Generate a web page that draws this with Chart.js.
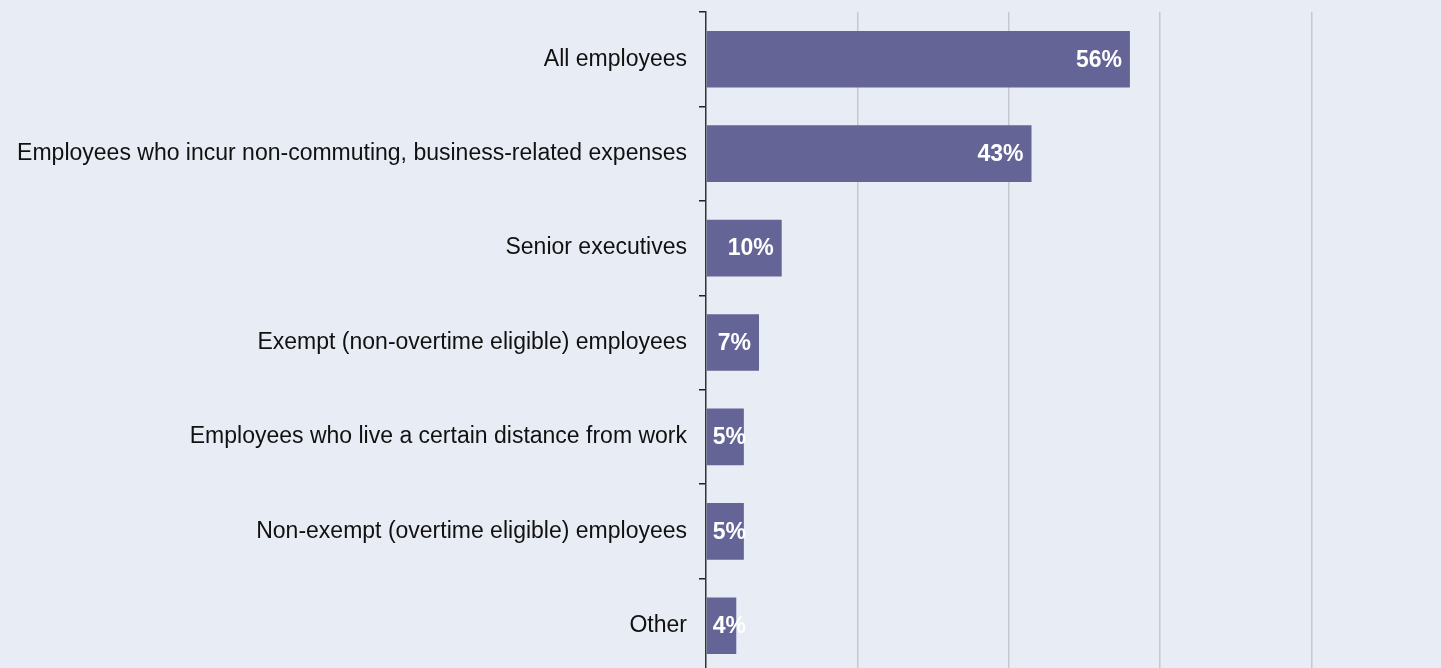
<!DOCTYPE html>
<html>

<head>
    <meta charset="UTF-8">
    <title>Employee Groups</title>
    <style>
        html,
        body {
            margin: 0;
            padding: 0;
            overflow: hidden;
            background: #e8ecf4;
        }

        #chartBox {
            width: 1441px;
            height: 668px;
            overflow: hidden;
        }
    </style>
</head>

<body>
    <div id="chartBox">
        <canvas id="groupChart" width="1464" height="674"></canvas>
    </div>
    <script src="https://cdn.jsdelivr.net/npm/chart.js"></script>

    <script>
        const categories = [
            "All employees",
            "Employees who incur non-commuting, business-related expenses",
            "Senior executives",
            "Exempt (non-overtime eligible) employees",
            "Employees who live a certain distance from work",
            "Non-exempt (overtime eligible) employees",
            "Other"
        ];
        const shares = [56, 43, 10, 7, 5, 5, 4];
        const xTicks = [0, 20, 40, 60, 80, 100];

        const labelFont = "'Liberation Sans', Arial, sans-serif";

        // white percentage inside the end of each bar
        const barValueLabels = {
            id: "barValueLabels",
            afterDatasetsDraw(chart) {
                const ctx = chart.ctx;
                const meta = chart.getDatasetMeta(0);
                ctx.save();
                ctx.font = "bold 23px " + labelFont;
                ctx.fillStyle = "#ffffff";
                ctx.textBaseline = "middle";
                ctx.textAlign = "left";
                meta.data.forEach((bar, i) => {
                    const text = shares[i] + "%";
                    const w = ctx.measureText(text).width;
                    const x = Math.max(bar.base + 6, bar.x - 8 - w);
                    ctx.fillText(text, x, bar.y + 1);
                });
                ctx.restore();
            }
        };

        const groupChart = new Chart(document.getElementById("groupChart"), {
            type: "bar",
            data: {
                labels: categories,
                datasets: [{
                    data: shares,
                    backgroundColor: "#646496",
                    borderWidth: 0,
                    barPercentage: 0.6,
                    categoryPercentage: 1
                }]
            },
            options: {
                indexAxis: "y",
                responsive: false,
                animation: false,
                devicePixelRatio: 1,
                layout: {
                    padding: { top: 12, right: 1, bottom: 1, left: 0 }
                },
                plugins: {
                    legend: { display: false },
                    tooltip: { enabled: false }
                },
                scales: {
                    x: {
                        min: 0,
                        max: 100,
                        afterBuildTicks: (scale) => {
                            scale.ticks = xTicks.map((v) => ({ value: v }));
                        },
                        ticks: { display: false },
                        border: { display: false },
                        grid: {
                            color: (c) => c.tick.value === 0 ? "rgba(0,0,0,0)" : "#c6c8ce",
                            lineWidth: 1.5,
                            drawTicks: false
                        }
                    },
                    y: {
                        afterFit: (scale) => {
                            scale.width = 706;
                            scale.paddingTop = 0;
                            scale.paddingBottom = 0;
                        },
                        border: { display: true, color: "#333333", width: 1.5 },
                        grid: {
                            offset: true,
                            drawOnChartArea: false,
                            drawTicks: true,
                            tickLength: 7,
                            color: "#222222",
                            lineWidth: 1.5
                        },
                        ticks: {
                            padding: 12,
                            color: "#111111",
                            font: { family: labelFont, size: 23 }
                        }
                    }
                }
            },
            plugins: [barValueLabels]
        });
    </script>
</body>

</html>
